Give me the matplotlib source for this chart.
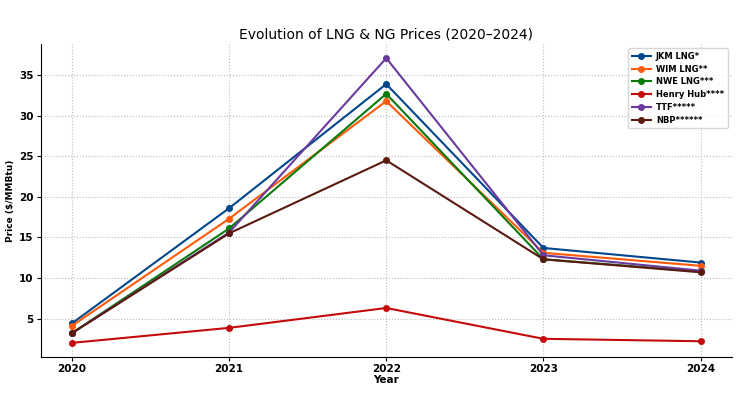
import matplotlib.pyplot as plt

years = [2020, 2021, 2022, 2023, 2024]

jkm = [4.4, 18.6, 33.9, 13.7, 11.9]
wim = [4.1, 17.3, 31.8, 13.1, 11.5]
nwe = [3.2, 16.1, 32.7, 12.3, 10.8]
henry_hub = [2.0, 3.85, 6.3, 2.5, 2.2]
ttf = [3.2, 15.6, 37.1, 12.8, 10.9]
nbp = [3.2, 15.5, 24.5, 12.3, 10.7]

series = [
    ("JKM LNG*", jkm, "#00468b"),
    ("WIM LNG**", wim, "#ff5a0a"),
    ("NWE LNG***", nwe, "#087a0a"),
    ("Henry Hub****", henry_hub, "#c40a0a"),
    ("TTF*****", ttf, "#6a3a9e"),
    ("NBP******", nbp, "#5a1a10"),
]

fig, ax = plt.subplots(figsize=(7.5, 3.99), dpi=100)
fig.subplots_adjust(left=0.054, right=0.976, top=0.89, bottom=0.105)

for name, vals, col in series:
    ax.plot(years, vals, marker="o", markersize=4, linewidth=1.5, color=col, label=name)

ax.set_title("Evolution of LNG & NG Prices (2020\u20132024)", fontsize=10, pad=4)
ax.set_xlabel("Year", fontsize=7.5, fontweight="bold", labelpad=1)
ax.set_ylabel("Price ($/MMBtu)", fontsize=6.5, fontweight="bold", labelpad=3)
ax.set_xticks(years)
ax.tick_params(labelsize=7.5, length=3, pad=2)
for lab in ax.get_xticklabels() + ax.get_yticklabels():
    lab.set_fontweight("bold")

ax.grid(True, linestyle=":", color="#bbbbbb", linewidth=0.8)
ax.spines["top"].set_visible(False)
ax.spines["right"].set_visible(False)

leg = ax.legend(loc="upper right", fontsize=6, frameon=True, handlelength=2.3,
                borderpad=0.45, labelspacing=0.45, handletextpad=0.6)
for t in leg.get_texts():
    t.set_fontweight("bold")

fig.savefig("out.png", dpi=100)
